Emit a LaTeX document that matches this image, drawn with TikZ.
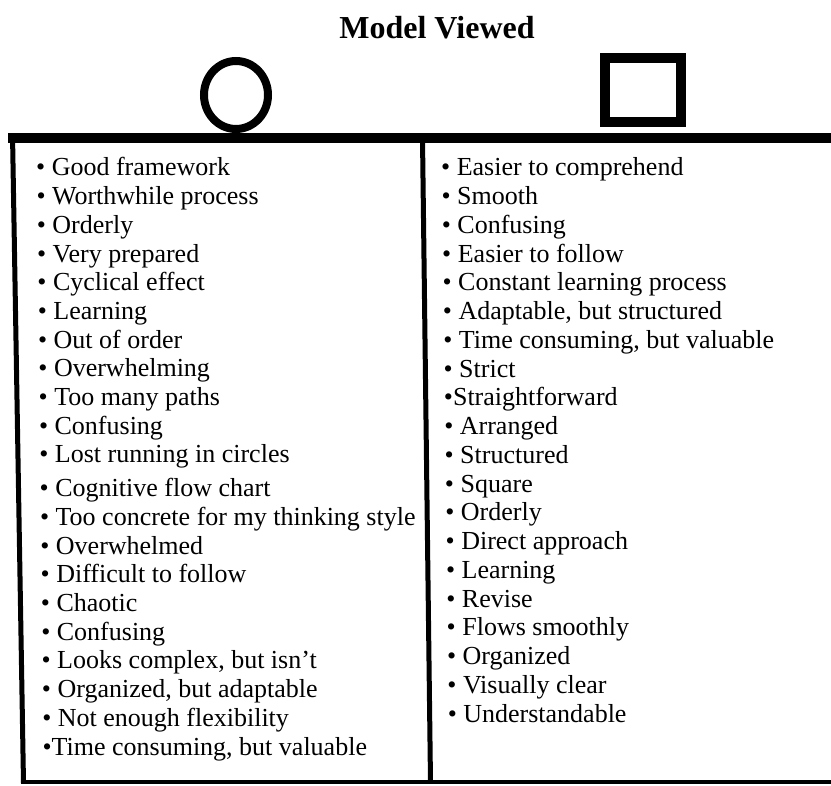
\documentclass[tikz,border=0pt]{standalone}
\usepackage{fontspec}
\usetikzlibrary{shapes.geometric}
\setmainfont{Liberation Serif}
\begin{document}
\begin{tikzpicture}[x=1pt,y=-1pt,
  item/.style={anchor=base west, inner sep=0pt, font=\fontsize{26}{30}\selectfont},
  rule/.style={line width=#1, line cap=butt}]
\useasboundingbox (0,0) rectangle (831,786);
\fill[white] (0,0) rectangle (831,786);
% title and symbols
\node[anchor=base, inner sep=0pt, font=\fontsize{32}{36}\selectfont\bfseries] (title) at (437,39) {Model Viewed};
\node[draw, ellipse, line width=8pt, minimum width=64pt, minimum height=68pt, inner sep=0pt] (circ) at (236,95) {};
\node[draw, rectangle, line width=10pt, minimum width=76pt, minimum height=64pt, inner sep=0pt] (sq) at (643,90) {};
% table rules
\coordinate (tl) at (8,138.5);
\coordinate (tr) at (831,138.5);
\coordinate (lt) at (12.5,134);
\coordinate (lb) at (23.5,783);
\coordinate (mt) at (422.5,138);
\coordinate (mb) at (430.5,782);
\coordinate (bl) at (21,781.5);
\coordinate (br) at (831,781.5);
\draw[rule=10pt] (tl) -- (tr);
\draw[rule=5pt] (lt) -- (lb);
\draw[rule=5pt] (mt) -- (mb);
\draw[rule=4pt] (bl) -- (br);
% left column
\foreach [count=\i] \t in {%
  • Good framework,
  • Worthwhile process,
  • Orderly,
  • Very prepared,
  • Cyclical effect,
  • Learning,
  • Out of order,
  • Overwhelming,
  • Too many paths,
  • Confusing,
  • Lost running in circles,
  • Cognitive flow chart,
  • Too concrete for my thinking style,
  • Overwhelmed,
  • Difficult to follow,
  • Chaotic,
  • Confusing,
  {• Looks complex, but isn't},
  {• Organized, but adaptable},
  • Not enough flexibility,
  {•Time consuming, but valuable}}{
  \pgfmathsetmacro\yy{176+(\i-1)*28.7+(\i>11)*5}
  \node[item] (L\i) at ({36+0.011*(\yy-176)},\yy) {\t};
}
% right column
\foreach [count=\i] \t in {%
  • Easier to comprehend,
  • Smooth,
  • Confusing,
  • Easier to follow,
  • Constant learning process,
  {• Adaptable, but structured},
  {• Time consuming, but valuable},
  • Strict,
  •Straightforward,
  • Arranged,
  • Structured,
  • Square,
  • Orderly,
  • Direct approach,
  • Learning,
  • Revise,
  • Flows smoothly,
  • Organized,
  • Visually clear,
  • Understandable}{
  \pgfmathsetmacro\yy{176+(\i-1)*28.74}
  \node[item] (R\i) at ({441+0.012*(\yy-176)},\yy) {\t};
}
\end{tikzpicture}
\end{document}
